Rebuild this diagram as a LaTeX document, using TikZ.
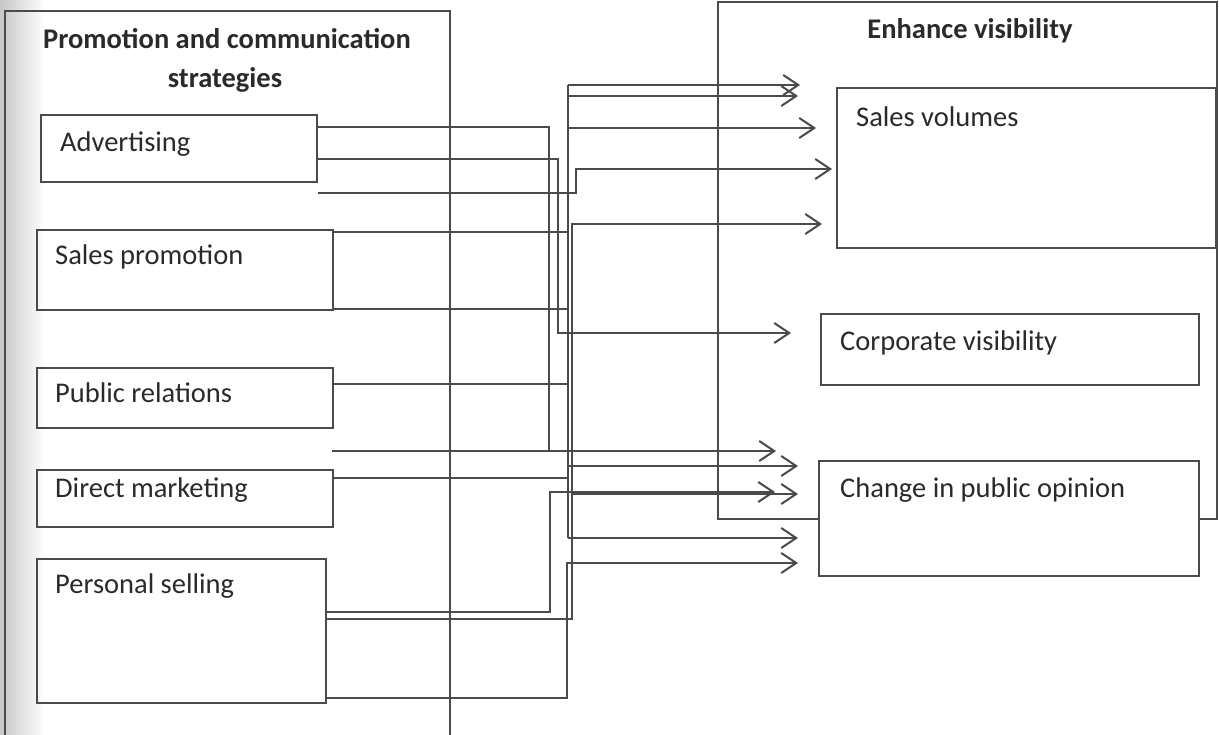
\documentclass[tikz,border=0pt]{standalone}
\usepackage{fontspec}
\setmainfont{Carlito}
\usetikzlibrary{arrows.meta}
\definecolor{linec}{HTML}{4A4A4A}
\definecolor{textc}{HTML}{2A2A2A}
\begin{document}
\begin{tikzpicture}[x=1pt,y=-1pt,
  ln/.style={draw=linec, line width=2pt},
  box/.style={draw=linec, line width=2pt, inner sep=0pt, anchor=north west},
  lbl/.style={anchor=west, font=\fontsize{28.5}{32}\selectfont, text=textc, inner sep=0pt},
  ttl/.style={font=\bfseries\fontsize{28.5}{32}\selectfont, text=textc, inner sep=0pt},
  arr/.style={ln, -{Straight Barb[length=15pt,width=20pt,line width=2pt]}},
]
\useasboundingbox (0,0) rectangle (1219,735);
\fill[white] (0,0) rectangle (1219,735);
\shade[left color=black!22, right color=white] (0,0) rectangle (45,735);

% outer frames
\draw[ln] (5,735) -- (5,11) -- (450,11) -- (450,735);
\draw[ln] (818,519) -- (718,519) -- (718,2) -- (1217,2) -- (1217,519) -- (1198,519);
\node[ttl] (t1) at (227,39) {Promotion and communication};
\node[ttl] (t2) at (225,80) {strategies};
\node[ttl] (t3) at (970,31) {Enhance visibility};

% left boxes
\node[box, minimum width=276pt, minimum height=67pt] (adv) at (40,114) {};
\node[lbl] (advt) at (60,144) {Advertising};
\node[box, minimum width=296pt, minimum height=80pt] (sp) at (36,229) {};
\node[lbl] (spt) at (55,257) {Sales promotion};
\node[box, minimum width=296pt, minimum height=60pt] (pr) at (36,367) {};
\node[lbl] (prt) at (55,393) {Public relations};
\node[box, minimum width=296pt, minimum height=57pt] (dm) at (36,469) {};
\node[lbl] (dmt) at (55,490) {Direct marketing};
\node[box, minimum width=289pt, minimum height=144pt] (ps) at (36,558) {};
\node[lbl] (pst) at (55,586) {Personal selling};

% right boxes
\node[box, minimum width=379pt, minimum height=160pt] (sv) at (836,87) {};
\node[lbl] (svt) at (856,117) {Sales volumes};
\node[box, minimum width=378pt, minimum height=71pt] (cv) at (820,313) {};
\node[lbl] (cvt) at (840,343) {Corporate visibility};
\node[box, minimum width=380pt, minimum height=115pt] (cp) at (818,460) {};
\node[lbl] (cpt) at (840,490) {Change in public opinion};

% bus coordinates
\coordinate (busTop) at (568,85);
\coordinate (busBot) at (568,538);
\coordinate (free) at (332,451);

% Advertising
\draw[ln] (adv.east |- 0,127) -- (549,127) -- (549,451);
\draw[arr] (adv.east |- 0,159) -- (558,159) -- (558,333) -- (791,333);
\draw[arr] (adv.east |- 0,193) -- (576,193) -- (576,169) -- (832,169);
% Sales promotion
\draw[ln] (sp.east |- 0,232) -- (568,232);
\draw[ln] (sp.east |- 0,309) -- (568,309);
% Public relations
\draw[ln] (pr.east |- 0,384) -- (568,384);
% Direct marketing
\draw[ln] (dm.east |- 0,478) -- (568,478);
% bus
\draw[ln] (busBot) -- (busTop);
\draw[arr] (busTop) -- (800,85);
\draw[arr] (568,96) -- (798,96);
\draw[arr] (568,128) -- (816,128);
\draw[arr] (568,466) -- (798,466);
\draw[arr] (busBot) -- (798,538);
% free line
\draw[arr] (free) -- (776,451);
% Personal selling
\draw[arr] (ps.east |- 0,612) -- (550,612) -- (550,492) -- (775,492);
\draw[arr] (ps.east |- 0,619) -- (572,619) -- (572,224) -- (822,224);
\draw[arr] (572,494) -- (798,494);
\draw[arr] (ps.east |- 0,698) -- (567,698) -- (567,563) -- (798,563);
\end{tikzpicture}
\end{document}
